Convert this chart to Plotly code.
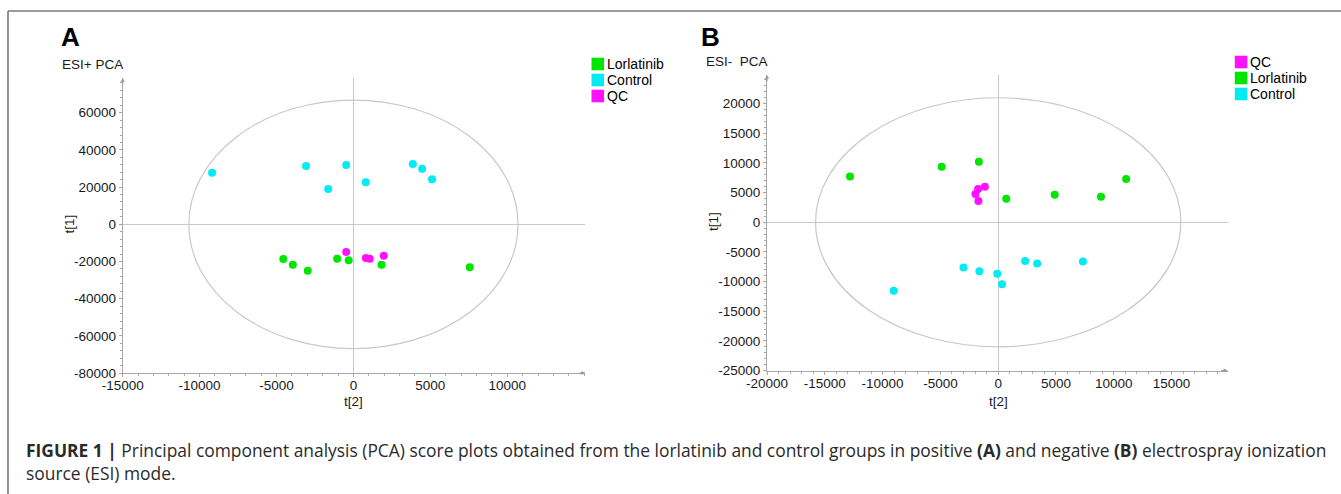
import plotly.graph_objects as go

W, H = 1341, 494

# ---------------- data ----------------
# Panel A : ESI+ PCA  (x = t[2], y = t[1])
ctrlA_x = [-9190, -3080, -470, -1640, 800, 3860, 4470, 5110]
ctrlA_y = [27700, 31340, 31880, 18980, 22580, 32420, 29900, 24190]
lorA_x = [-4560, -3940, -2970, -1060, -310, 1830, 7560]
lorA_y = [-18660, -21720, -24950, -18490, -19350, -21720, -23120]
qcA_x = [-470, 810, 1060, 1970]
qcA_y = [-14890, -18120, -18490, -16880]

# Panel B : ESI- PCA
lorB_x = [-12820, -4890, -1670, 700, 4890, 8890, 11070]
lorB_y = [7740, 9360, 10200, 3970, 4650, 4310, 7290]
qcB_x = [-1740, -1150, -1970, -1710]
qcB_y = [5610, 5990, 4760, 3590]
ctrlB_x = [-3000, -1630, -80, 330, 2330, 3370, 7330, -9040]
ctrlB_y = [-7640, -8250, -8700, -10440, -6520, -6970, -6630, -11570]

# Hotelling ellipse semi-axes (t[2], t[1])
ellA = (10700, 66800)
ellB = (15800, 21000)

# tick values
xticksA = [-15000, -10000, -5000, 0, 5000, 10000]
yticksA = [-80000, -60000, -40000, -20000, 0, 20000, 40000, 60000]
xticksB = [-20000, -15000, -10000, -5000, 0, 5000, 10000, 15000]
yticksB = [-25000, -20000, -15000, -10000, -5000, 0, 5000, 10000, 15000, 20000]

legendA = ["Lorlatinib", "Control", "QC"]
legendB = ["QC", "Lorlatinib", "Control"]

GREEN = "#00e600"
CYAN = "#00ecf4"
MAGENTA = "#ff10ff"
COL = {"Lorlatinib": GREEN, "Control": CYAN, "QC": MAGENTA}

FONT = "Liberation Sans, Arial, sans-serif"
CAPFONT = "Open Sans, Liberation Sans, sans-serif"


def px(x):
    return x / W


def py(y):
    return 1 - y / H


fig = go.Figure()


def add_pts(xs, ys, name, xa, ya):
    fig.add_trace(go.Scatter(
        x=xs, y=ys, mode="markers", name=name, showlegend=False,
        xaxis=xa, yaxis=ya,
        marker=dict(size=8, color=COL[name], line=dict(width=0)),
    ))


add_pts(ctrlA_x, ctrlA_y, "Control", "x", "y")
add_pts(lorA_x, lorA_y, "Lorlatinib", "x", "y")
add_pts(qcA_x, qcA_y, "QC", "x", "y")
add_pts(lorB_x, lorB_y, "Lorlatinib", "x2", "y2")
add_pts(qcB_x, qcB_y, "QC", "x2", "y2")
add_pts(ctrlB_x, ctrlB_y, "Control", "x2", "y2")

AXCOL = "#a8a8a8"
ZCOL = "#c8c8c8"
tickfont = dict(family=FONT, size=13.5, color="#1a1a1a")


def axis(rng, dom, ticks, minor, standoff):
    return dict(range=rng, domain=dom, tickvals=ticks, ticktext=[str(v) for v in ticks],
                showgrid=False,
                zeroline=True, zerolinecolor=ZCOL, zerolinewidth=1.2,
                showline=True, linecolor=AXCOL, linewidth=1,
                ticks="outside", ticklen=3, tickcolor=AXCOL, tickfont=tickfont,
                ticklabelstandoff=standoff,
                minor=dict(ticks="outside", ticklen=2, tickcolor=AXCOL, dtick=minor, showgrid=False),
                automargin=False, fixedrange=True)


xA = axis([-15000, 15080], [px(122.7), px(585.4)], xticksA, 1000, -3)
yA = axis([-80000, 78650], [py(373.1), py(78)], yticksA, 4000, 0)
xB = axis([-20000, 19845], [px(767), px(1227.6)], xticksB, 1000, -3)
yB = axis([-25000, 24840], [py(370.5), py(75)], yticksB, 1000, 0)
xA["anchor"] = "y"
yA["anchor"] = "x"
xB["anchor"] = "y2"
yB["anchor"] = "x2"

shapes = [
    # Hotelling T2 ellipses
    dict(type="circle", xref="x", yref="y", x0=-ellA[0], x1=ellA[0], y0=-ellA[1], y1=ellA[1],
         line=dict(color="#c8c8c8", width=1.2), layer="below"),
    dict(type="circle", xref="x2", yref="y2", x0=-ellB[0], x1=ellB[0], y0=-ellB[1], y1=ellB[1],
         line=dict(color="#c8c8c8", width=1.2), layer="below"),
    # figure frame
    dict(type="line", xref="paper", yref="paper", x0=px(8), x1=1.01, y0=py(11), y1=py(11),
         line=dict(color="#7a7a7a", width=1.6)),
    dict(type="line", xref="paper", yref="paper", x0=px(8), x1=px(8), y0=py(11), y1=-0.01,
         line=dict(color="#7a7a7a", width=1.6)),
]

annotations = []


def txt(x, y, text, size, bold=False, anchor="left", color="#1a1a1a", angle=0, family=FONT):
    annotations.append(dict(
        x=px(x), y=py(y), xref="paper", yref="paper", showarrow=False,
        text=f"<b>{text}</b>" if bold else text, textangle=angle,
        xanchor=anchor, yanchor="middle",
        font=dict(family=family, size=size, color=color)))


# manual legends (square swatches)
def legend(x0, y0, names):
    for i, n in enumerate(names):
        yc = y0 + 16 * i
        shapes.append(dict(type="rect", xref="paper", yref="paper",
                           x0=px(x0), x1=px(x0 + 12.5), y0=py(yc + 6.3), y1=py(yc - 6.3),
                           fillcolor=COL[n], line=dict(width=0)))
        txt(x0 + 13.5, yc, n, 14, color="#000000")


legend(591.5, 64, legendA)
legend(1234.8, 62, legendB)

# panel labels and titles
txt(59, 37, "A", 26, bold=True, color="#000000")
txt(699, 37, "B", 26, bold=True, color="#000000")
txt(59.5, 64, "ESI+ PCA", 13.5)
txt(703.5, 62, "ESI-\u00a0\u00a0PCA", 13.5)
txt(68.5, 224, "t[1]", 13.5, anchor="center", angle=-90)
txt(713, 222, "t[1]", 13.5, anchor="center", angle=-90)
txt(353.4, 401, "t[2]", 13.5, anchor="center")
txt(998.2, 401, "t[2]", 13.5, anchor="center")

# axis arrowheads
for (xr, yr, x, y, ax, ay) in [("x", "y", -15000, 78650, 0, 8), ("x", "y", 15080, -80000, -8, 0),
                               ("x2", "y2", -20000, 24840, 0, 8), ("x2", "y2", 19845, -25000, -8, 0)]:
    annotations.append(dict(x=x, y=y, xref=xr, yref=yr, ax=ax, ay=ay, text="", showarrow=True,
                            arrowhead=2, arrowsize=0.8, arrowwidth=1, arrowcolor="#999999",
                            standoff=0))

# caption (one text block, two lines)
annotations.append(dict(
    x=px(24), y=py(461), xref="paper", yref="paper", showarrow=False, xanchor="left", yanchor="middle",
    align="left",
    text="<b>FIGURE 1 |</b> Principal component analysis (PCA) score plots obtained from the lorlatinib "
         "and control groups in positive <b>(A)</b> and negative <b>(B)</b> electrospray ionization"
         "<br>source (ESI) mode.",
    font=dict(family=CAPFONT, size=17.4, color="#2a2a2a")))

fig.update_layout(
    width=W, height=H, autosize=False,
    margin=dict(l=0, r=0, t=0, b=0, pad=0),
    paper_bgcolor="white", plot_bgcolor="white",
    template="none",
    showlegend=False,
    xaxis=xA, yaxis=yA, xaxis2=xB, yaxis2=yB,
    shapes=shapes, annotations=annotations,
    font=dict(family=FONT),
)

fig.write_html("out.html", config={"displayModeBar": False},
               post_script="document.body.style.margin='0';")
